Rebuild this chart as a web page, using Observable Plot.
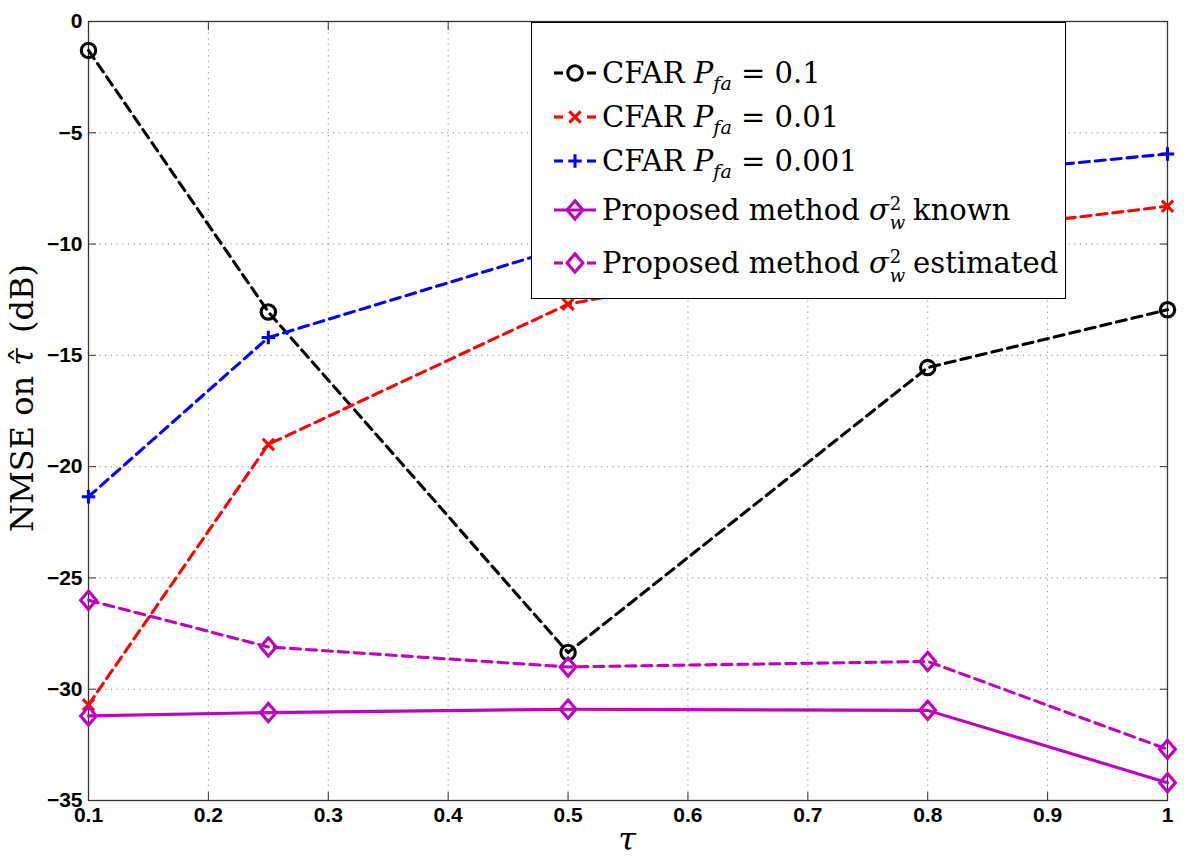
<!DOCTYPE html>
<html><head><meta charset="utf-8">
<script src="https://cdn.jsdelivr.net/npm/d3@7"></script>
<script src="https://cdn.jsdelivr.net/npm/@observablehq/plot@0.6"></script>
<style>
body{margin:0;background:#fff;}
#wrap{position:relative;width:1200px;height:862px;}
#legend{position:absolute;left:531px;top:22px;width:533px;height:275px;border:1.5px solid #000;background:#fff;font-family:"DejaVu Serif",serif;font-size:29px;color:#000;}
.row{position:absolute;left:0;height:46px;white-space:nowrap;}
.row svg{position:absolute;left:20px;top:8px;}
.row .t{position:absolute;left:70px;top:0;line-height:46px;}
.ss{display:inline-flex;flex-direction:column;vertical-align:middle;font-size:0.62em;line-height:1.05em;margin-left:1px;margin-right:8px;font-style:italic;position:relative;top:2px;}
.ss .up{font-style:normal;}
sub{font-size:0.66em;font-style:italic;vertical-align:-0.35em;line-height:0;}
</style>
</head><body>
<div id="wrap"></div>
<script>
// ---- data ----
const tau = [0.1, 0.25, 0.5, 0.8, 1.0];
const cfar1 = [-1.3, -13.05, -28.35, -15.55, -12.95];
const cfar01 = [-30.7, -19.0, -12.7, -9.6, -8.3];
const cfar001 = [-21.35, -14.2, -10.1, -7.0, -5.95];
const known = [-31.2, -31.05, -30.9, -30.95, -34.2];
const estimated = [-26.0, -28.1, -29.0, -28.75, -32.7];
const xTicks = [0.1, 0.2, 0.3, 0.4, 0.5, 0.6, 0.7, 0.8, 0.9, 1];
const yTicks = [-35, -30, -25, -20, -15, -10, -5, 0];
const xTickLabels = ["0.1","0.2","0.3","0.4","0.5","0.6","0.7","0.8","0.9","1"];
const seriesValues = [cfar1, cfar01, cfar001, known, estimated];

// ---- styles ----
const colors = ["#000000", "#ff0000", "#0000ff", "#bf00bf", "#bf00bf"];
const dashes = ["10,6", "10,6", "10,6", null, "10,6"];
const diamond = {
  draw(ctx, size) {
    const r = Math.sqrt(size / Math.PI);
    ctx.moveTo(0, -r * 1.1); ctx.lineTo(r * 0.95, 0); ctx.lineTo(0, r * 1.1); ctx.lineTo(-r * 0.95, 0); ctx.closePath();
  }
};
const symbols = ["circle", "times", "plus", diamond, diamond];
const radii = [7.2, 5.2, 4.4, 8.3, 8.3];
const lw = 3.1;

const rows = seriesValues.flatMap((vals, i) => vals.map((v, j) => ({series: i, tau: tau[j], nmse: v})));

const marks = [
  Plot.gridX(xTicks, {stroke: "#8a8a8a", strokeOpacity: 1, strokeWidth: 1, strokeDasharray: "1.2,4.5"}),
  Plot.gridY(yTicks, {stroke: "#8a8a8a", strokeOpacity: 1, strokeWidth: 1, strokeDasharray: "1.2,4.5"}),
  Plot.frame({stroke: "#333", strokeWidth: 1.3}),
  // inward tick marks on all sides
  Plot.axisX(xTicks, {anchor: "bottom", tickSize: 8, dy: -8, fill: "none", stroke: "#333", label: null}),
  Plot.axisX(xTicks, {anchor: "top", tickSize: 8, dy: 8, fill: "none", stroke: "#333", label: null}),
  Plot.axisY(yTicks, {anchor: "left", tickSize: 8, dx: 8, fill: "none", stroke: "#333", label: null}),
  Plot.axisY(yTicks, {anchor: "right", tickSize: 8, dx: -8, fill: "none", stroke: "#333", label: null}),
  // tick labels
  Plot.axisX(xTicks, {anchor: "bottom", tickSize: 0, tickPadding: 7, label: null, fontSize: 21, fontWeight: "bold",
    tickFormat: (d) => xTickLabels[xTicks.indexOf(d)]}),
  Plot.axisY(yTicks, {anchor: "left", tickSize: 0, tickPadding: 6, label: null, fontSize: 21, fontWeight: "bold",
    tickFormat: (d) => d === 0 ? "0" : "\u2212" + Math.abs(d)})
];
seriesValues.forEach((_, i) => {
  const d = rows.filter((r) => r.series === i);
  marks.push(Plot.line(d, {x: "tau", y: "nmse", stroke: colors[i], strokeWidth: lw, strokeDasharray: dashes[i] ?? undefined}));
});
seriesValues.forEach((_, i) => {
  const d = rows.filter((r) => r.series === i);
  marks.push(Plot.dot(d, {x: "tau", y: "nmse", symbol: symbols[i], r: radii[i], stroke: colors[i], strokeWidth: lw, fill: "none"}));
});

const plot = Plot.plot({
  width: 1200, height: 862,
  marginLeft: 88, marginRight: 33, marginTop: 21, marginBottom: 62,
  x: {domain: [0.1, 1], label: null},
  y: {domain: [-35, 0], label: null},
  style: {fontFamily: "'Liberation Sans', Arial, sans-serif", fontSize: "21px", background: "#fff", color: "#000"},
  marks
});

const svg = d3.select(plot);
const yl = svg.append("text").attr("transform", "translate(33,398) rotate(-90)").attr("text-anchor", "middle")
  .attr("font-family", "'DejaVu Serif', serif").attr("font-size", 32).attr("fill", "#000");
yl.append("tspan").text("NMSE on ");
yl.append("tspan").attr("font-style", "italic").text("\u03c4");
yl.append("tspan").attr("dx", -15).attr("dy", 1).text("\u02c6");
yl.append("tspan").attr("dx", 4).attr("dy", -1).text(" (dB)");
svg.append("text").attr("x", 627).attr("y", 850).attr("text-anchor", "middle")
  .attr("font-family", "'DejaVu Serif', serif").attr("font-size", 32).attr("font-style", "italic").attr("fill", "#000").text("\u03c4");

const wrap = document.getElementById("wrap");
wrap.appendChild(plot);

// ---- legend ----
const legendHTML = [
  'CFAR <i>P</i><sub>fa</sub> = 0.1',
  'CFAR <i>P</i><sub>fa</sub> = 0.01',
  'CFAR <i>P</i><sub>fa</sub> = 0.001',
  'Proposed method <i>σ</i><span class="ss"><span class="up">2</span><span>w</span></span>known',
  'Proposed method <i>σ</i><span class="ss"><span class="up">2</span><span>w</span></span>estimated'
];
const rowCenters = [50, 94, 138, 187, 240];
const leg = document.createElement("div");
leg.id = "legend";
legendHTML.forEach((html, i) => {
  const row = document.createElement("div");
  row.className = "row";
  row.style.top = (rowCenters[i] - 23) + "px";
  const s = d3.create("svg").attr("width", 48).attr("height", 30);
  if (dashes[i]) {
    s.append("line").attr("x1", 2).attr("x2", 11).attr("y1", 15).attr("y2", 15).attr("stroke", colors[i]).attr("stroke-width", lw);
    s.append("line").attr("x1", 35).attr("x2", 44).attr("y1", 15).attr("y2", 15).attr("stroke", colors[i]).attr("stroke-width", lw);
  } else {
    s.append("line").attr("x1", 2).attr("x2", 44).attr("y1", 15).attr("y2", 15).attr("stroke", colors[i]).attr("stroke-width", lw);
  }
  const symType = typeof symbols[i] === "string"
    ? {circle: d3.symbolCircle, times: d3.symbolTimes, plus: d3.symbolPlus}[symbols[i]]
    : symbols[i];
  s.append("path").attr("transform", "translate(23,15)")
    .attr("d", d3.symbol(symType, Math.PI * radii[i] * radii[i])())
    .attr("fill", "none").attr("stroke", colors[i]).attr("stroke-width", lw);
  row.appendChild(s.node());
  const t = document.createElement("span");
  t.className = "t";
  t.innerHTML = html;
  row.appendChild(t);
  leg.appendChild(row);
});
wrap.appendChild(leg);
</script>
</body></html>
